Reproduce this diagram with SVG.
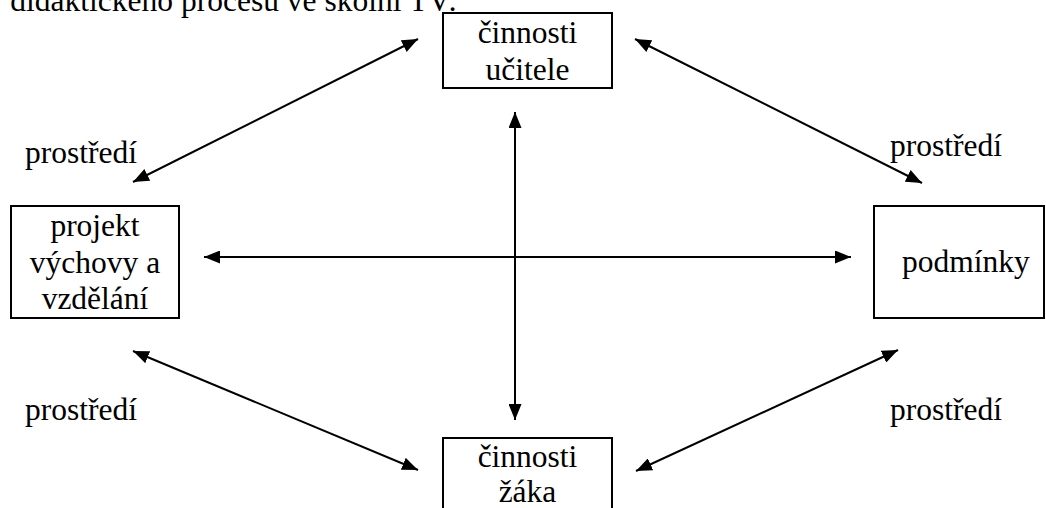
<svg xmlns="http://www.w3.org/2000/svg" width="1046" height="508" viewBox="0 0 1046 508">
  <style>
    text { font-family: 'Liberation Serif', 'DejaVu Serif', serif; font-size: 31.5px; fill: #000; }
    .c { text-anchor: middle; }
    .box { fill: #fff; stroke: #000; stroke-width: 2; }
    .link { stroke: #000; stroke-width: 2; fill: none; marker-start: url(#head); marker-end: url(#head); }
  </style>
  <defs>
    <marker id="head" markerUnits="userSpaceOnUse" markerWidth="17" markerHeight="13" refX="16" refY="6.5" orient="auto-start-reverse">
      <path d="M0,0 L16,6.5 L0,13 Z" fill="#000"/>
    </marker>
  </defs>

  <rect width="1046" height="508" fill="#fff"/>

  <!-- heading line -->
  <text x="-8" y="11" font-family="Liberation Serif">r didaktického procesu ve školní TV:</text>

  <!-- connectors -->
  <g id="connectors">
    <line class="link" x1="133" y1="182" x2="418" y2="39"/>
    <line class="link" x1="635" y1="39" x2="922" y2="183"/>
    <line class="link" x1="133" y1="351" x2="418" y2="470"/>
    <line class="link" x1="636" y1="471" x2="898" y2="350"/>
    <line class="link" x1="204" y1="257" x2="851" y2="257"/>
    <line class="link" x1="515" y1="112" x2="515" y2="420"/>
  </g>

  <!-- environment labels -->
  <g id="labels" font-family="Liberation Serif">
    <text x="25" y="163">prostředí</text>
    <text x="890" y="156">prostředí</text>
    <text x="25" y="420">prostředí</text>
    <text x="890" y="420">prostředí</text>
  </g>

  <g id="ucitel" font-family="Liberation Serif">
    <rect class="box" x="443" y="13" width="169" height="75"/>
    <text class="c" x="527.5" y="43">činnosti</text>
    <text class="c" x="527.5" y="80">učitele</text>
  </g>

  <g id="zak" font-family="Liberation Serif">
    <rect class="box" x="443" y="438" width="169" height="80"/>
    <text class="c" x="527.5" y="467">činnosti</text>
    <text class="c" x="527.5" y="502">žáka</text>
  </g>

  <g id="projekt" font-family="Liberation Serif">
    <rect class="box" x="11" y="206" width="168" height="112"/>
    <text class="c" x="95" y="236">projekt</text>
    <text class="c" x="95" y="273">výchovy a</text>
    <text class="c" x="95" y="309">vzdělání</text>
  </g>

  <g id="podminky" font-family="Liberation Serif">
    <rect class="box" x="874" y="206" width="170" height="112"/>
    <text class="c" x="966" y="272">podmínky</text>
  </g>
</svg>
